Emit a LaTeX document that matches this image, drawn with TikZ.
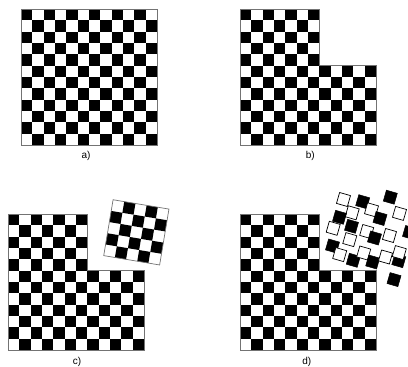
\documentclass[tikz,border=0pt]{standalone}
\usepackage{fontspec}
\setmainfont{Liberation Sans}
\begin{document}
\begin{tikzpicture}[x=1pt,y=-1pt,
  cellfill/.style={fill=black},
  boardedge/.style={draw=black!55,line width=0.7pt},
  tileW/.style={fill=white,draw=black,line width=0.7pt},
  tileB/.style={fill=black,draw=black,line width=0.5pt},
  lab/.style={font=\fontsize{10}{11}\selectfont}]
\useasboundingbox (0,0) rectangle (408,367);
\def\s{11.33}
% full board a)
\begin{scope}[shift={(21,9)}]
  \fill[white] (0,0) rectangle (12*\s,12*\s);
  \foreach \r in {0,...,11}{\foreach \c in {0,...,11}{
    \pgfmathparse{int(mod(\r+\c,2))}
    \ifnum\pgfmathresult=0 \fill[cellfill] (\c*\s,\r*\s) rectangle ++(\s,\s);\fi}}
  \draw[boardedge] (0,0) rectangle (12*\s,12*\s);
\end{scope}
\node[lab] (la) at (86,155.5) {a)};
% L-shaped boards b), c), d)
\foreach \ox/\oy in {240/9, 8/214, 240/214}{
\begin{scope}[shift={(\ox,\oy)}]
  \fill[white] (0,0) -- (7*\s,0) -- (7*\s,5*\s) -- (12*\s,5*\s) -- (12*\s,12*\s) -- (0,12*\s) -- cycle;
  \foreach \r in {0,...,11}{\foreach \c in {0,...,11}{
    \pgfmathparse{int(mod(\r+\c,2)+ (\r<5 && \c>6 ? 2 : 0))}
    \ifnum\pgfmathresult=0 \fill[cellfill] (\c*\s,\r*\s) rectangle ++(\s,\s);\fi}}
  \draw[boardedge] (0,0) -- (7*\s,0) -- (7*\s,5*\s) -- (12*\s,5*\s) -- (12*\s,12*\s) -- (0,12*\s) -- cycle;
\end{scope}}
\node[lab] (lb) at (310.3,155.5) {b)};
\node[lab] (lc) at (77,361.7) {c)};
\node[lab] (ld) at (306.7,361.7) {d)};
% rotated piece in c)
\begin{scope}[shift={(136.35,232.35)},rotate=-9.5]
  \fill[white] (-2.5*\s,-2.5*\s) rectangle (2.5*\s,2.5*\s);
  \foreach \j in {0,...,4}{\foreach \i in {0,...,4}{
    \pgfmathparse{int(mod(\i+\j,2))}
    \ifnum\pgfmathresult=1 \fill[cellfill] ({(\i-2.5)*\s},{(\j-2.5)*\s}) rectangle ++(\s,\s);\fi}}
  \draw[boardedge] (-2.5*\s,-2.5*\s) rectangle (2.5*\s,2.5*\s);
\end{scope}
% scattered tiles in d)
\foreach \x/\y/\t in {362.7/201.7/B, 343.5/199.5/W, 390.3/197.2/B, 352.2/212.8/W,
  371.5/209.8/W, 399.5/213.4/W, 339.5/217.3/B, 380/218.5/B, 333.2/228.3/W,
  351.5/226.3/B, 366.7/231.5/W, 374.5/238/B, 389.5/235.5/W, 409.5/232.5/B,
  332.5/246/B, 349.8/239.6/W, 339.7/254.6/W, 353.3/260.3/B, 363.7/253/W,
  372.7/262/B, 385.5/257/W, 398.8/260.7/B, 399.3/252.6/W, 394/279.6/B}{
  \begin{scope}[shift={(\x,\y)},rotate=-16]
    \path[tile\t] (-0.5*\s,-0.5*\s) rectangle (0.5*\s,0.5*\s);
  \end{scope}}
\end{tikzpicture}
\end{document}
